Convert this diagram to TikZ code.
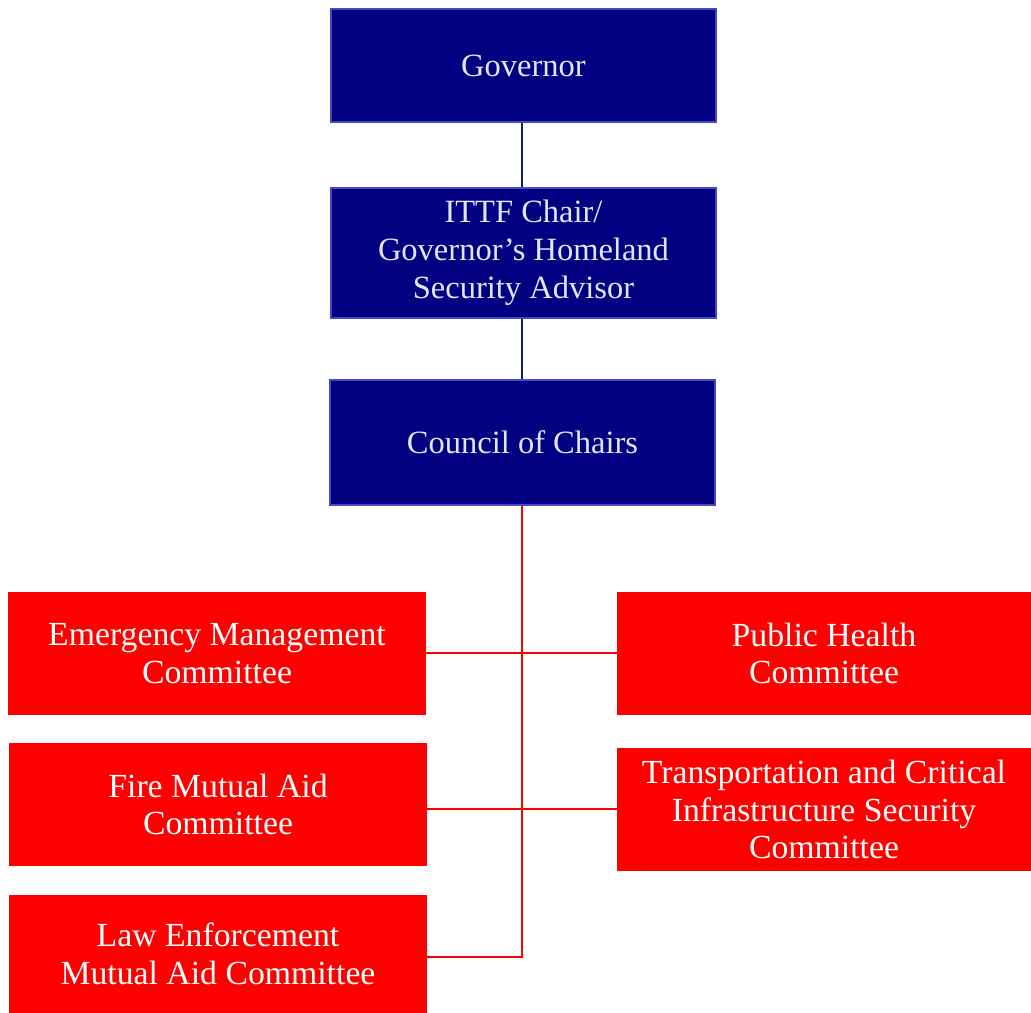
\documentclass[tikz,border=0pt]{standalone}
\usepackage{fontspec}
\setmainfont{Liberation Serif}
\definecolor{navybox}{RGB}{0,0,128}
\definecolor{navyedge}{RGB}{70,70,200}
\definecolor{navyline}{RGB}{20,30,100}
\definecolor{redbox}{RGB}{255,0,0}
\tikzset{
  chairbox/.style={draw=navyedge, line width=1.2pt, fill=navybox, text=white!90!blue,
    minimum width=385*0.02cm, align=center, font=\fontsize{18.5}{21.5}\selectfont},
  committee/.style={fill=redbox, text=white, minimum height=123*0.02cm,
    align=center, font=\fontsize{19.2}{21.5}\selectfont},
  navylink/.style={navyline, line width=1.1pt},
  redlink/.style={redbox, line width=1.2pt}
}
\begin{document}
\begin{tikzpicture}[x=0.02cm, y=-0.02cm]
  \useasboundingbox (0,0) rectangle (1031,1013);
  % chain of command
  \node[chairbox, minimum height=113*0.02cm] (gov) at (523.5,65.5) {Governor};
  \node[chairbox, minimum height=130*0.02cm] (ittf) at (523.5,253) {ITTF Chair/\\Governor’s Homeland\\Security Advisor};
  \node[chairbox, minimum height=125*0.02cm] (council) at (522.5,442.5) {Council of Chairs};
  % committees
  \node[committee, minimum width=418*0.02cm] (emerg) at (217,653.5) {Emergency Management\\Committee};
  \node[committee, minimum width=414*0.02cm] (health) at (824,653.5) {Public Health\\Committee};
  \node[committee, minimum width=418*0.02cm] (fire) at (218,804.5) {Fire Mutual Aid\\Committee};
  \node[committee, minimum width=414*0.02cm] (transp) at (824,809.5) {Transportation and Critical\\Infrastructure Security\\Committee};
  \node[committee, minimum width=418*0.02cm, minimum height=118*0.02cm] (law) at (218,954) {Law Enforcement\\Mutual Aid Committee};
  % connectors
  \draw[navylink] (gov.south -| 522,0) -- (ittf.north -| 522,0);
  \draw[navylink] (ittf.south -| 522,0) -- (council.north -| 522,0);
  \coordinate (trunk) at (522,957);
  \draw[redlink] (council.south -| 522,0) -- (trunk) -- (law.east |- trunk);
  \draw[redlink] (emerg.east |- 0,653) -- (health.west |- 0,653);
  \draw[redlink] (fire.east |- 0,809) -- (transp.west |- 0,809);
\end{tikzpicture}
\end{document}
